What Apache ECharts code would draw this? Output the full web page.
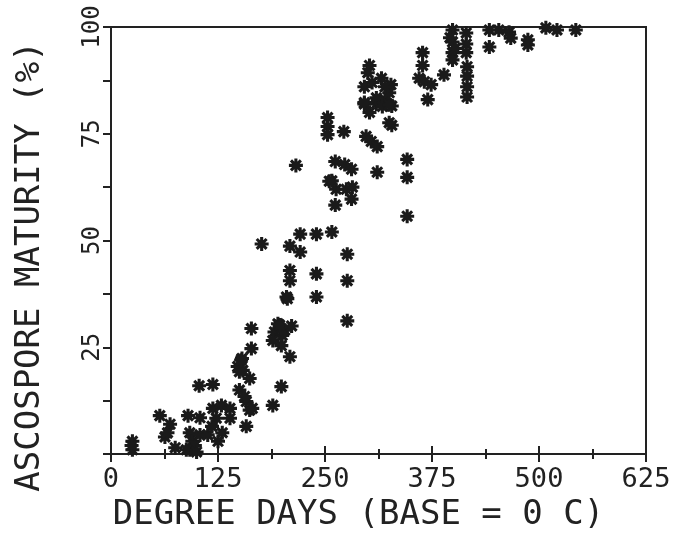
<!DOCTYPE html>
<html>
<head>
<meta charset="utf-8">
<script src="https://cdn.jsdelivr.net/npm/echarts@6/dist/echarts.min.js"></script>
<style>
  html, body { margin: 0; padding: 0; background: #fff; }
  #root { width: 687px; height: 537px; }
</style>
</head>
<body>
<div id="root"></div>
<script>
// axis labels
var xTitle = 'DEGREE DAYS (BASE = 0 C)'
var yTitle = 'ASCOSPORE MATURITY (%)'
var xTicks = [0, 125, 250, 375, 500, 625]
var yTicks = [0, 25, 50, 75, 100]

// degree days (x) and maturity % (y)
var degreeDays = [
  25, 25, 24,
  57, 63, 69, 75, 66,
  90, 104, 92, 95, 92, 98, 104, 113, 88, 100,
  103, 119,
  119, 123, 118, 129, 139, 139, 130, 125,
  158,
  150, 162, 150, 158, 162, 148, 153, 154, 156, 165, 164, 164, 152,
  189, 199,
  195, 191, 200, 189, 199, 209, 203, 206, 197, 211,
  176, 209, 221, 221, 240, 258,
  209, 209, 240, 205, 240,
  276, 276, 276,
  216,
  262, 273, 281, 255, 263, 275, 282, 281, 262, 258,
  253, 253, 253, 272,
  296, 302, 310, 320, 328, 328,
  298, 304, 311, 311,
  346, 346, 346,
  302, 300, 296, 316, 327, 296, 310, 317, 325, 325, 325, 305, 320,
  364, 364, 360, 366, 374, 370,
  389,
  399, 399, 399, 399, 396, 402,
  415, 415, 415,
  416, 416, 416, 416,
  442, 442, 453, 465, 467,
  487, 487,
  508, 521, 543
]
var maturity = [
  1, 3, 2,
  9, 4, 7, 1.5, 5,
  9, 8.5, 5, 3, 1, 2, 4.5, 4.5, 1, 0.5,
  16, 16.3,
  10.7, 8.4, 6.5, 11.4, 10.7, 8.4, 5, 3,
  6.5,
  19.3, 17.7, 15, 12.3, 10.3, 20.5, 22.4, 19.6, 13.5, 10.7, 24.7, 29.4, 22,
  11.4, 15.8,
  30.5, 28.6, 27.8, 26.6, 25.4, 22.8, 29, 36.4, 30.2, 30,
  49.2, 48.7, 47.3, 51.5, 51.5, 52,
  43, 40.6, 42.2, 36.8, 36.8,
  46.8, 40.6, 31.2,
  67.6,
  68.5, 67.8, 66.7, 63.9, 62, 62, 62.5, 59.7, 58.3, 64,
  78.8, 76.7, 74.8, 75.5,
  82, 80, 82, 83, 81.5, 77,
  74.4, 73.2, 72, 66,
  69, 64.8, 55.7,
  91, 89.3, 86, 88, 86.5, 82.3, 83.4, 81.4, 81.8, 84.6, 77.6, 87, 86,
  94, 91, 88, 87.2, 86.5, 83,
  88.8,
  99.3, 96.5, 94, 92.3, 97.5, 95,
  98.6, 96, 94,
  90.7, 88.5, 86, 83.6,
  99.3, 95.3, 99.3, 98.8, 97.4,
  95.8, 97,
  99.8, 99.3, 99.3
]

var ink = '#222'
var labelFont = '"DejaVu Sans Mono", "Liberation Mono", monospace'

// plotter style asterisk: four overlapping bars
var star = 'path://M0 7.8L20 7.8L20 12.2L0 12.2Z' +
  'M7.8 0L12.2 0L12.2 20L7.8 20Z' +
  'M4.49 1.37L18.63 15.51L15.51 18.63L1.37 4.49Z' +
  'M15.51 1.37L18.63 4.49L4.49 18.63L1.37 15.51Z'

var points = degreeDays.map(function (d, i) { return [d, maturity[i]] })

var chart = echarts.init(document.getElementById('root'))

var option = {
  backgroundColor: '#fff',
  animation: false,
  grid: {
    left: 111, right: 41, top: 27, bottom: 81,
    show: true, borderColor: ink, borderWidth: 2
  },
  xAxis: [
    {
      type: 'value',
      min: xTicks[0], max: xTicks[xTicks.length - 1], interval: 125,
      name: xTitle, nameLocation: 'middle', nameGap: 40,
      nameTextStyle: { fontFamily: labelFont, fontSize: 34, color: ink, padding: [0, 40, 0, 0] },
      axisLine: { show: true, onZero: false, lineStyle: { color: ink, width: 2 } },
      axisTick: { show: true, length: 8, lineStyle: { color: ink, width: 2 } },
      minorTick: { show: true, splitNumber: 2, length: 5, lineStyle: { color: ink, width: 2 } },
      axisLabel: { margin: 12, fontFamily: labelFont, fontSize: 27, color: ink },
      splitLine: { show: false }
    },
    {
      type: 'value',
      position: 'bottom',
      min: xTicks[0], max: xTicks[xTicks.length - 1], interval: 125,
      axisLine: { show: false },
      axisTick: { show: true, inside: true, length: 8, lineStyle: { color: ink, width: 2 } },
      minorTick: { show: true, splitNumber: 2, length: 5, lineStyle: { color: ink, width: 2 } },
      axisLabel: { show: false },
      splitLine: { show: false }
    }
  ],
  yAxis: {
    type: 'value',
    min: yTicks[0], max: yTicks[yTicks.length - 1], interval: 25,
    name: yTitle, nameLocation: 'middle', nameGap: 64, nameRotate: 90,
    nameTextStyle: { fontFamily: labelFont, fontSize: 34, color: ink, padding: [0, 52, 0, 0] },
    axisLine: { show: true, lineStyle: { color: ink, width: 2 } },
    axisTick: { show: true, length: 8, lineStyle: { color: ink, width: 2 } },
    minorTick: { show: true, splitNumber: 2, length: 8, lineStyle: { color: ink, width: 2 } },
    axisLabel: {
      rotate: 90, margin: 6, fontFamily: labelFont, fontSize: 24, color: ink,
      formatter: function (v) { return v === 0 ? '' : String(v) }
    },
    splitLine: { show: false }
  },
  series: [{
    type: 'scatter',
    xAxisIndex: 0,
    data: points,
    symbol: star,
    symbolSize: 14,
    itemStyle: { color: '#1a1a1a', opacity: 1 }
  }]
}

chart.setOption(option)
</script>
</body>
</html>
